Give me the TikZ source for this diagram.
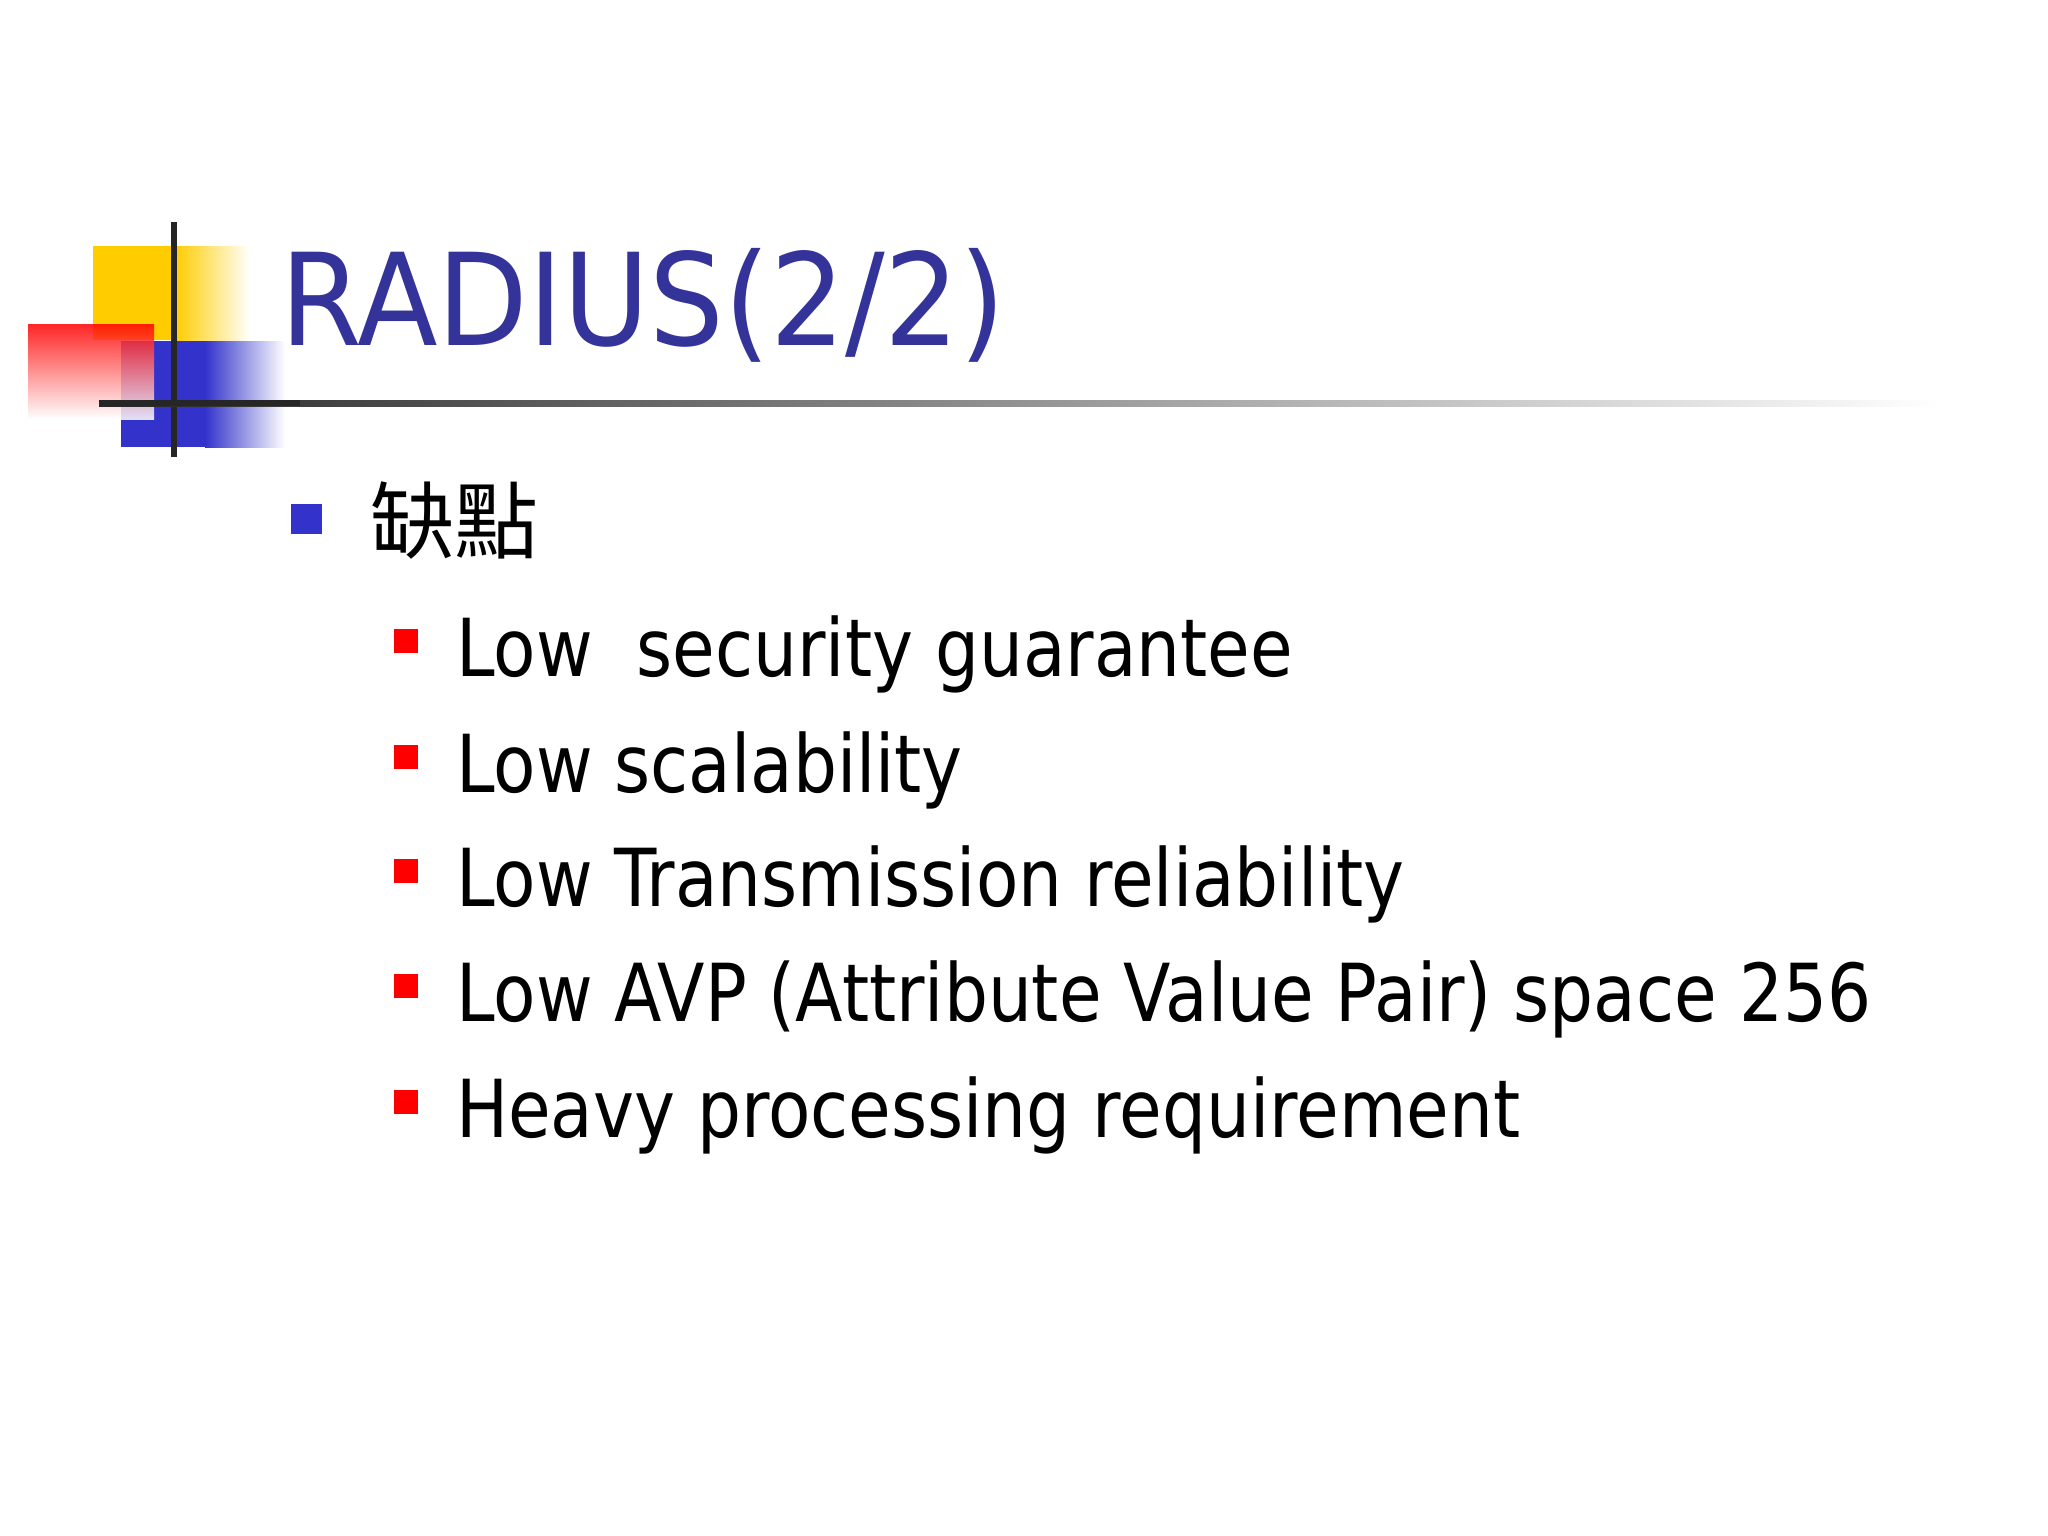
\documentclass[tikz,border=0pt]{standalone}
\usepackage{fontspec}
\setmainfont{DejaVu Sans}
\newfontfamily\cjk{Noto Sans CJK TC}
\begin{document}
\begin{tikzpicture}[x=1pt,y=-1pt,
  item/.style={anchor=base west,inner sep=0pt,font=\fontsize{80}{96}\selectfont},
  rsq/.style={fill=red,draw=none}]
\useasboundingbox (0,0) rectangle (2048,1536);
\fill[white] (0,0) rectangle (2048,1536);
\definecolor{ttl}{RGB}{51,51,153}
\definecolor{yel}{RGB}{255,204,0}
\definecolor{blu}{RGB}{51,51,204}
% logo
\fill[yel] (93,246) rectangle (175,340);
\shade[left color=yel,right color=white] (175,246) rectangle (250,340);
\fill[blu] (121,341) rectangle (205,447);
\shade[left color=blu,right color=white] (205,341) rectangle (285,447);
\shade[shading angle=45,top color=red,bottom color=white,opacity=0.85] (28,324) rectangle (154,419);
\fill[black!85] (171,222) rectangle (177,457);
\shade[left color=black!85,right color=white] (99,400) rectangle (1940,406);
\fill[black!85] (99,400) rectangle (300,406);
\node[anchor=base west,inner sep=0pt,text=ttl,font=\fontsize{128}{150}\selectfont] (title) at (280,345) {\scalebox{0.92}[1]{RADIUS(2/2)}};
\fill[blu] (291,504) rectangle (322,534);
\node[anchor=west,inner sep=0pt,font=\cjk\fontsize{84}{100}\selectfont] (h) at (370,521) {缺點};
\foreach \y/\t [count=\i] in {676/{Low\ \ security guarantee},792/{Low scalability},906/{Low Transmission reliability},1021/{Low AVP (Attribute Value Pair) space 256},1137/{Heavy processing requirement}}{
  \fill[red] (394,\y-47) rectangle (418,\y-23);
  \node[item] (i\i) at (456,\y) {\scalebox{0.866}[1]{\t}};
}
\end{tikzpicture}
\end{document}
